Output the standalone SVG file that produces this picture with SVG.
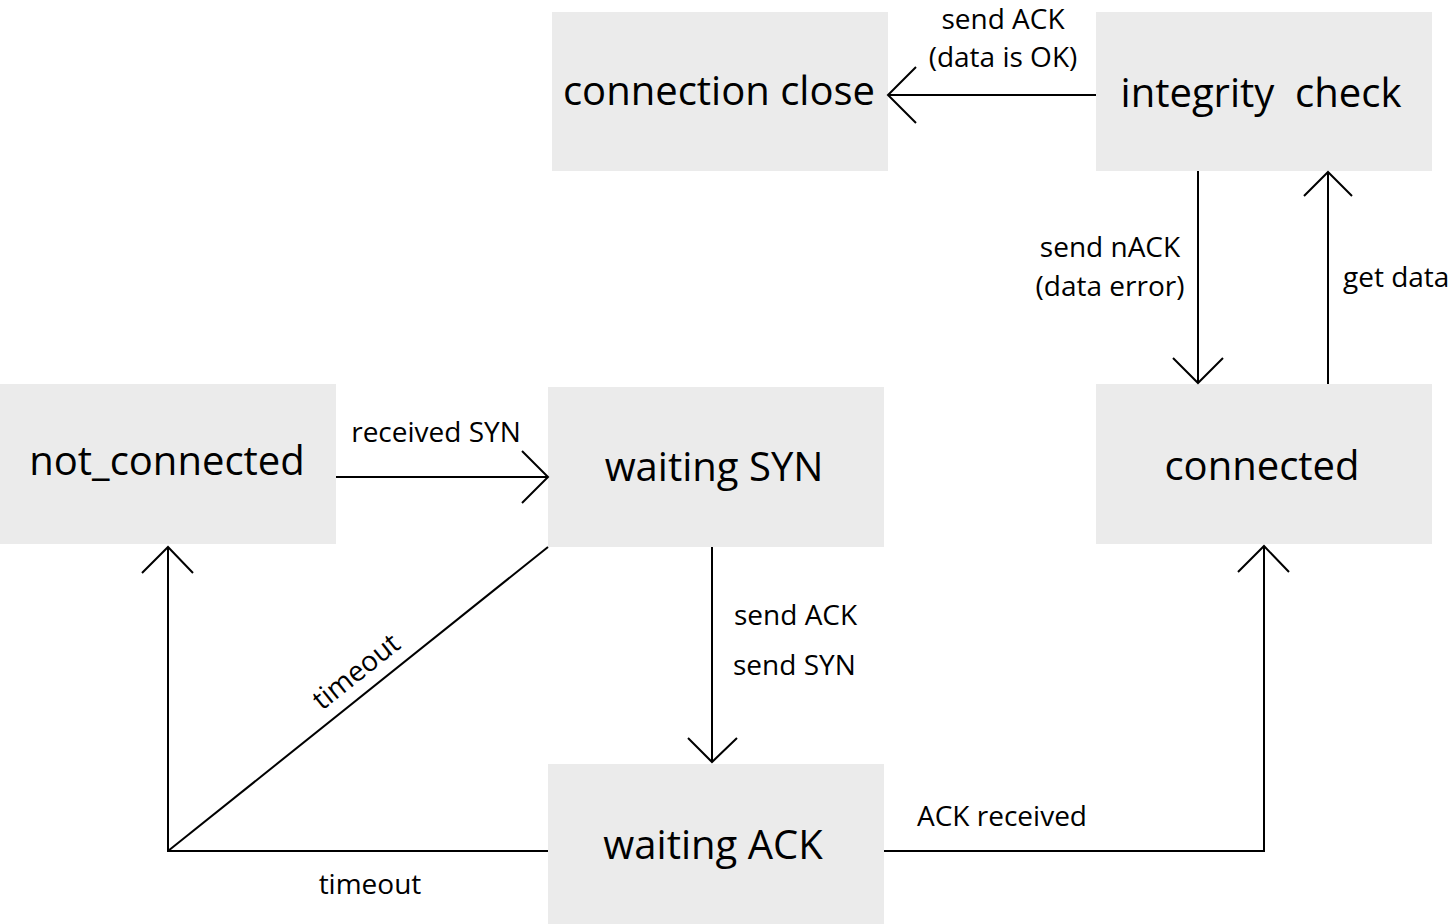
<svg xmlns="http://www.w3.org/2000/svg" width="1455" height="924" viewBox="0 0 1455 924">
<style>
.box{fill:#ebebeb;}
.nt{font-family:"Open Sans","DejaVu Sans",sans-serif;font-size:40px;fill:#000;text-anchor:middle;}
.lb{font-family:"Open Sans","DejaVu Sans",sans-serif;font-size:28px;fill:#000;}
.ln{fill:none;stroke:#000;stroke-width:2;}
</style>
<rect width="1455" height="924" fill="#fff"/>
<g id="connection_close"><rect class="box" x="552" y="12" width="336" height="159"/><text class="nt" x="719" y="105">connection close</text></g>
<g id="integrity_check"><rect class="box" x="1096" y="12" width="336" height="159"/><text class="nt" x="1261" y="107" xml:space="preserve">integrity  check</text></g>
<g id="not_connected"><rect class="box" x="0" y="384" width="336" height="160"/><text class="nt" x="167" y="475">not_connected</text></g>
<g id="waiting_SYN"><rect class="box" x="548" y="387" width="336" height="160"/><text class="nt" x="714" y="481">waiting SYN</text></g>
<g id="connected"><rect class="box" x="1096" y="384" width="336" height="160"/><text class="nt" x="1262" y="480">connected</text></g>
<g id="waiting_ACK"><rect class="box" x="548" y="764" width="336" height="160"/><text class="nt" x="713" y="859">waiting ACK</text></g>
<g id="connectors">
<path class="ln" d="M1096,95 H888 M916,67 L888,95 L916,123"/>
<path class="ln" d="M1198,171 V383 M1173,358 L1198,383 L1223,358"/>
<path class="ln" d="M1328,384 V172 M1304,196 L1328,172 L1352,196"/>
<path class="ln" d="M336,477 H548 M522,451 L548,477 L522,503"/>
<path class="ln" d="M712,547 V762 M688,738 L712,762 L737,738"/>
<path class="ln" d="M548,547 L168,851"/>
<path class="ln" d="M548,851 H168 V547 M142,573 L168,547 L193,573"/>
<path class="ln" d="M884,851 H1264 V546 M1238,572 L1264,546 L1289,572"/>
<text class="lb" x="1003" y="29" text-anchor="middle">send ACK</text>
<text class="lb" x="1003" y="67" text-anchor="middle">(data is OK)</text>
<text class="lb" x="1110" y="257" text-anchor="middle">send nACK</text>
<text class="lb" x="1110" y="296" text-anchor="middle">(data error)</text>
<text class="lb" x="1343" y="287">get data</text>
<text class="lb" x="436" y="442" text-anchor="middle">received SYN</text>
<text class="lb" x="734" y="625">send ACK</text>
<text class="lb" x="733" y="675">send SYN</text>
<text class="lb" x="1002" y="826" text-anchor="middle">ACK received</text>
<text class="lb" x="370" y="894" text-anchor="middle">timeout</text>
<text class="lb" text-anchor="middle" transform="translate(362,679) rotate(-38.7)">timeout</text>
</g>
</svg>
